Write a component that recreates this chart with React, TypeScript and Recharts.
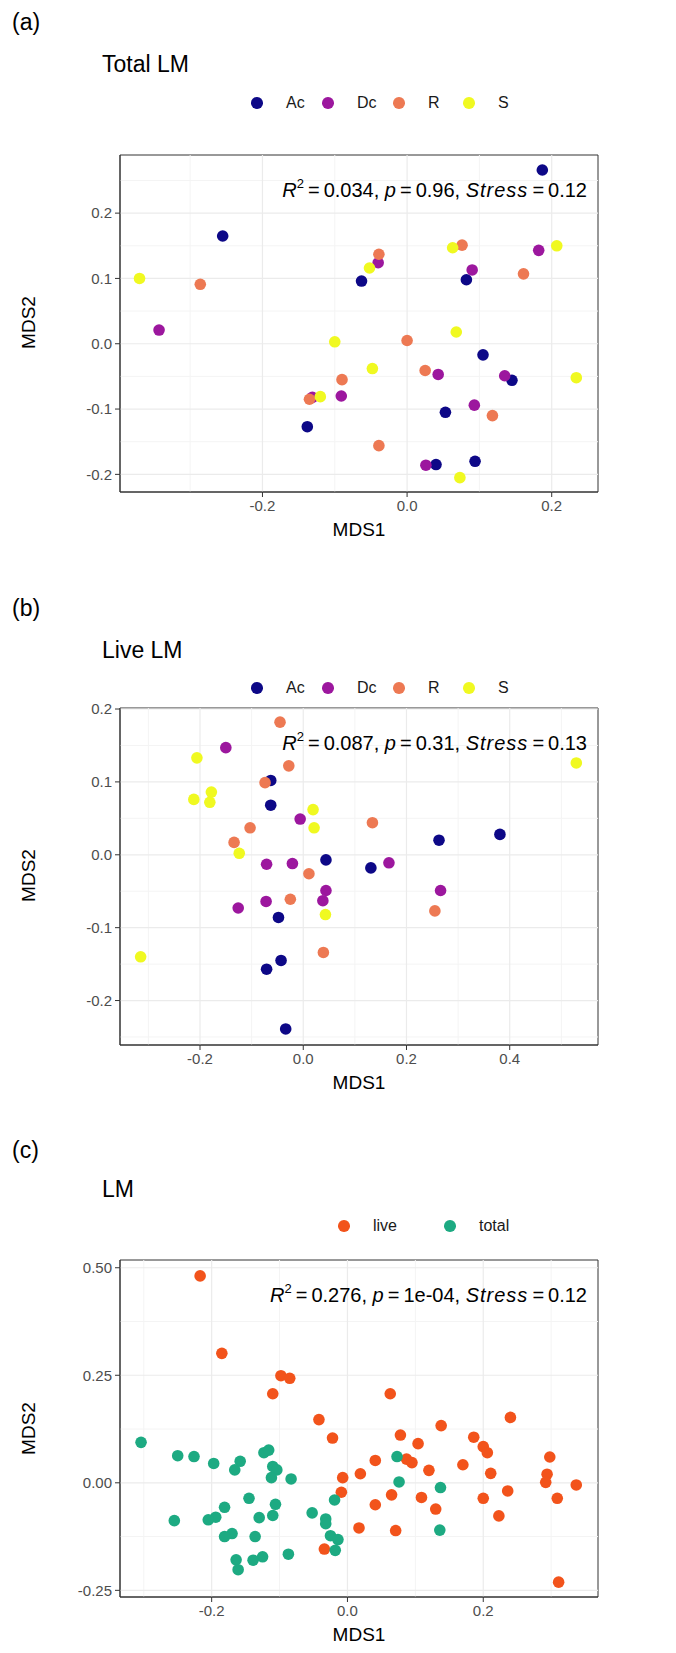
import React from 'react';
import { ScatterChart, Scatter, XAxis, YAxis, ReferenceLine, ReferenceArea } from 'recharts';

// (a) Total LM
const totalAc = [
  { x: 0.187, y: 0.266 }, { x: -0.255, y: 0.165 }, { x: -0.063, y: 0.096 }, { x: 0.082, y: 0.098 },
  { x: 0.105, y: -0.017 }, { x: 0.145, y: -0.056 }, { x: 0.053, y: -0.105 }, { x: -0.138, y: -0.127 },
  { x: 0.040, y: -0.185 }, { x: 0.094, y: -0.180 },
];
const totalDc = [
  { x: -0.343, y: 0.021 }, { x: -0.040, y: 0.124 }, { x: 0.090, y: 0.113 }, { x: 0.182, y: 0.143 },
  { x: -0.091, y: -0.080 }, { x: 0.043, y: -0.047 }, { x: 0.135, y: -0.049 }, { x: 0.093, y: -0.094 },
  { x: 0.026, y: -0.186 }, { x: -0.131, y: -0.082 },
];
const totalR = [
  { x: -0.286, y: 0.091 }, { x: -0.039, y: 0.137 }, { x: 0.076, y: 0.151 }, { x: 0.161, y: 0.107 },
  { x: 0.000, y: 0.005 }, { x: 0.025, y: -0.041 }, { x: -0.090, y: -0.055 }, { x: -0.135, y: -0.085 },
  { x: 0.118, y: -0.110 }, { x: -0.039, y: -0.156 },
];
const totalS = [
  { x: -0.370, y: 0.100 }, { x: -0.052, y: 0.116 }, { x: 0.063, y: 0.147 }, { x: 0.207, y: 0.150 },
  { x: -0.100, y: 0.003 }, { x: 0.068, y: 0.018 }, { x: -0.048, y: -0.038 }, { x: -0.120, y: -0.081 },
  { x: 0.234, y: -0.052 }, { x: 0.073, y: -0.205 },
];

// (b) Live LM
const liveAc = [
  { x: -0.063, y: 0.102 }, { x: -0.063, y: 0.068 }, { x: 0.044, y: -0.007 }, { x: 0.131, y: -0.018 },
  { x: 0.263, y: 0.020 }, { x: 0.381, y: 0.028 }, { x: -0.048, y: -0.086 }, { x: -0.043, y: -0.145 },
  { x: -0.071, y: -0.157 }, { x: -0.034, y: -0.239 },
];
const liveDc = [
  { x: -0.150, y: 0.147 }, { x: -0.006, y: 0.049 }, { x: -0.071, y: -0.013 }, { x: -0.021, y: -0.012 },
  { x: 0.166, y: -0.011 }, { x: 0.044, y: -0.049 }, { x: 0.038, y: -0.063 }, { x: -0.072, y: -0.064 },
  { x: -0.126, y: -0.073 }, { x: 0.266, y: -0.049 },
];
const liveR = [
  { x: -0.045, y: 0.182 }, { x: -0.028, y: 0.122 }, { x: -0.074, y: 0.099 }, { x: -0.103, y: 0.037 },
  { x: -0.134, y: 0.017 }, { x: 0.011, y: -0.026 }, { x: -0.025, y: -0.061 }, { x: 0.134, y: 0.044 },
  { x: 0.255, y: -0.077 }, { x: 0.039, y: -0.134 },
];
const liveS = [
  { x: -0.206, y: 0.133 }, { x: -0.212, y: 0.076 }, { x: -0.178, y: 0.086 }, { x: -0.181, y: 0.072 },
  { x: -0.124, y: 0.002 }, { x: 0.019, y: 0.062 }, { x: 0.021, y: 0.037 }, { x: 0.043, y: -0.082 },
  { x: 0.529, y: 0.126 }, { x: -0.315, y: -0.140 },
];

// (c) LM, live vs total
const lmLive = [
  { x: -0.217, y: 0.481 }, { x: -0.185, y: 0.301 }, { x: -0.098, y: 0.249 }, { x: -0.085, y: 0.243 },
  { x: -0.110, y: 0.207 }, { x: 0.063, y: 0.207 }, { x: -0.042, y: 0.147 }, { x: -0.022, y: 0.104 },
  { x: 0.138, y: 0.133 }, { x: 0.240, y: 0.152 }, { x: 0.078, y: 0.111 }, { x: 0.186, y: 0.106 },
  { x: 0.104, y: 0.091 }, { x: 0.200, y: 0.084 }, { x: 0.206, y: 0.070 }, { x: 0.298, y: 0.060 },
  { x: 0.041, y: 0.052 }, { x: 0.087, y: 0.055 }, { x: 0.095, y: 0.047 }, { x: 0.170, y: 0.042 },
  { x: 0.120, y: 0.029 }, { x: 0.019, y: 0.021 }, { x: 0.211, y: 0.022 }, { x: 0.294, y: 0.020 },
  { x: -0.007, y: 0.012 }, { x: 0.292, y: 0.001 }, { x: 0.337, y: -0.005 }, { x: -0.009, y: -0.022 },
  { x: 0.065, y: -0.028 }, { x: 0.236, y: -0.019 }, { x: 0.109, y: -0.034 }, { x: 0.200, y: -0.036 },
  { x: 0.309, y: -0.036 }, { x: 0.041, y: -0.051 }, { x: 0.130, y: -0.061 }, { x: 0.223, y: -0.077 },
  { x: 0.017, y: -0.105 }, { x: 0.071, y: -0.111 }, { x: -0.034, y: -0.154 }, { x: 0.311, y: -0.231 },
];
const lmTotal = [
  { x: -0.304, y: 0.094 }, { x: -0.250, y: 0.063 }, { x: -0.226, y: 0.061 }, { x: -0.197, y: 0.045 },
  { x: -0.158, y: 0.050 }, { x: -0.166, y: 0.030 }, { x: -0.123, y: 0.070 }, { x: -0.116, y: 0.076 },
  { x: -0.110, y: 0.038 }, { x: -0.104, y: 0.030 }, { x: -0.112, y: 0.012 }, { x: -0.083, y: 0.009 },
  { x: 0.073, y: 0.061 }, { x: 0.076, y: 0.002 }, { x: 0.137, y: -0.011 }, { x: -0.019, y: -0.040 },
  { x: -0.145, y: -0.036 }, { x: -0.106, y: -0.050 }, { x: -0.181, y: -0.057 }, { x: -0.110, y: -0.076 },
  { x: -0.130, y: -0.081 }, { x: -0.194, y: -0.080 }, { x: -0.205, y: -0.086 }, { x: -0.255, y: -0.088 },
  { x: -0.052, y: -0.070 }, { x: -0.032, y: -0.084 }, { x: -0.032, y: -0.095 }, { x: -0.170, y: -0.118 },
  { x: -0.181, y: -0.125 }, { x: -0.136, y: -0.125 }, { x: -0.025, y: -0.123 }, { x: -0.014, y: -0.132 },
  { x: 0.136, y: -0.110 }, { x: -0.018, y: -0.157 }, { x: -0.087, y: -0.166 }, { x: -0.125, y: -0.172 },
  { x: -0.139, y: -0.180 }, { x: -0.164, y: -0.179 }, { x: -0.161, y: -0.202 },
];

const groupLabels = ['Ac', 'Dc', 'R', 'S'];
const groupColors = ['#0D0887', '#9C179E', '#ED7953', '#F0F921'];
const lmLabels = ['live', 'total'];
const lmColors = ['#F2531B', '#1DAA82'];

const FONT = '"Liberation Sans", Arial, sans-serif';
const GRID = '#EBEBEB';
const GRID_MINOR = '#F4F4F4';

type Pt = { x: number; y: number };

interface PanelProps {
  top: number;
  boxTop: number;
  boxBottom: number;
  xDomain: [number, number];
  yDomain: [number, number];
  xTicks: number[];
  yTicks: number[];
  xMinor: number[];
  yMinor: number[];
  digitsY: number;
  series: { data: Pt[]; color: string; name: string }[];
}

const Dot = (color: string) => (props: any) => (
  <circle cx={props.cx} cy={props.cy} r={5.8} fill={color} />
);

const Panel: React.FC<PanelProps> = (p) => {
  const axisH = 60;
  const height = p.boxBottom - p.top + axisH;
  return (
    <div style={{ position: 'absolute', left: 0, top: p.top }}>
      <ScatterChart
        width={676}
        height={height}
        margin={{ top: p.boxTop - p.top, right: 78, bottom: 0, left: 0 }}
      >
        <XAxis
          type="number"
          dataKey="x"
          domain={p.xDomain}
          ticks={p.xTicks}
          allowDataOverflow
          height={axisH}
          tickFormatter={(v: number) => v.toFixed(1)}
          tick={{ fill: '#4D4D4D', fontSize: 15, fontFamily: FONT }}
          tickSize={5}
          tickMargin={3}
          stroke="#333333"
        />
        <YAxis
          type="number"
          dataKey="y"
          domain={p.yDomain}
          ticks={p.yTicks}
          allowDataOverflow
          width={120}
          tickFormatter={(v: number) => v.toFixed(p.digitsY)}
          tick={{ fill: '#4D4D4D', fontSize: 15, fontFamily: FONT }}
          tickSize={5}
          tickMargin={3}
          stroke="#333333"
        />
        {p.xMinor.map((v) => (
          <ReferenceLine key={'xm' + v} x={v} stroke={GRID_MINOR} strokeWidth={1} />
        ))}
        {p.yMinor.map((v) => (
          <ReferenceLine key={'ym' + v} y={v} stroke={GRID_MINOR} strokeWidth={1} />
        ))}
        {p.xTicks.map((v) => (
          <ReferenceLine key={'x' + v} x={v} stroke={GRID} strokeWidth={1.2} />
        ))}
        {p.yTicks.map((v) => (
          <ReferenceLine key={'y' + v} y={v} stroke={GRID} strokeWidth={1.2} />
        ))}
        {p.series.map((s) => (
          <Scatter
            key={s.name}
            name={s.name}
            data={s.data}
            fill={s.color}
            shape={Dot(s.color)}
            isAnimationActive={false}
          />
        ))}
        <ReferenceArea
          x1={p.xDomain[0]}
          x2={p.xDomain[1]}
          y1={p.yDomain[0]}
          y2={p.yDomain[1]}
          fill="none"
          stroke="#333333"
          strokeWidth={1}
          ifOverflow="visible"
        />
      </ScatterChart>
    </div>
  );
};

const abs = (left: number, top: number, extra: React.CSSProperties = {}): React.CSSProperties => ({
  position: 'absolute',
  left,
  top,
  fontFamily: FONT,
  whiteSpace: 'nowrap',
  lineHeight: 1,
  ...extra,
});

const Legend: React.FC<{ top: number; dots: number[]; labels: string[]; colors: string[] }> = ({ top, dots, labels, colors }) => (
  <>
    {labels.map((l, i) => (
      <React.Fragment key={l}>
        <div style={abs(dots[i] - 5.8, top - 5.8, { width: 11.6, height: 11.6, borderRadius: '50%', background: colors[i] })} />
        <div style={abs(dots[i] + 29, top - 8, { fontSize: 16, color: '#1A1A1A' })}>{l}</div>
      </React.Fragment>
    ))}
  </>
);

const EQ = '\u2009=\u2009';

const Annot: React.FC<{ top: number; r2: string; p: string; stress: string }> = ({ top, r2, p, stress }) => (
  <div style={abs(0, top - 10, { width: 587, textAlign: 'right', fontSize: 20, color: '#000' })}>
    <i>R</i>
    <sup style={{ fontSize: 13, verticalAlign: 9 }}>2</sup>
    {EQ + r2 + ', '}
    <i>p</i>
    {EQ + p + ', '}
    <i style={{ letterSpacing: 1 }}>Stress</i>
    {EQ + stress}
  </div>
);

const AxisTitles: React.FC<{ midY: number; xTop: number }> = ({ midY, xTop }) => (
  <>
    <div style={abs(359 - 40, xTop, { width: 80, textAlign: 'center', fontSize: 19, color: '#000' })}>MDS1</div>
    <div
      style={abs(28 - 40, midY - 10, {
        width: 80,
        textAlign: 'center',
        fontSize: 19,
        color: '#000',
        transform: 'rotate(-90deg)',
      })}
    >
      MDS2
    </div>
  </>
);

export default function App() {
  const legendDots = [257, 328, 399, 469];
  return (
    <div style={{ position: 'absolute', left: 0, top: 0, width: 676, height: 1653, background: '#fff', overflow: 'hidden' }}>
      {/* (a) */}
      <Panel
        top={0}
        boxTop={155}
        boxBottom={492}
        xDomain={[-0.397, 0.264]}
        yDomain={[-0.227, 0.289]}
        xTicks={[-0.2, 0, 0.2]}
        yTicks={[-0.2, -0.1, 0, 0.1, 0.2]}
        xMinor={[-0.3, -0.1, 0.1]}
        yMinor={[-0.15, -0.05, 0.05, 0.15, 0.25]}
        digitsY={1}
        series={[totalAc, totalDc, totalR, totalS].map((d, i) => ({ data: d, color: groupColors[i], name: groupLabels[i] }))}
      />
      <div style={abs(12, 11, { fontSize: 23 })}>(a)</div>
      <div style={abs(102, 53, { fontSize: 23 })}>Total LM</div>
      <Legend top={103} dots={legendDots} labels={groupLabels} colors={groupColors} />
      <Annot top={187} r2="0.034" p="0.96" stress="0.12" />
      <AxisTitles midY={323} xTop={520} />

      {/* (b) */}
      <Panel
        top={560}
        boxTop={708}
        boxBottom={1045}
        xDomain={[-0.355, 0.571]}
        yDomain={[-0.261, 0.2014]}
        xTicks={[-0.2, 0, 0.2, 0.4]}
        yTicks={[-0.2, -0.1, 0, 0.1, 0.2]}
        xMinor={[-0.3, -0.1, 0.1, 0.3, 0.5]}
        yMinor={[-0.25, -0.15, -0.05, 0.05, 0.15]}
        digitsY={1}
        series={[liveAc, liveDc, liveR, liveS].map((d, i) => ({ data: d, color: groupColors[i], name: groupLabels[i] }))}
      />
      <div style={abs(12, 597, { fontSize: 23 })}>(b)</div>
      <div style={abs(102, 639, { fontSize: 23 })}>Live LM</div>
      <Legend top={688} dots={legendDots} labels={groupLabels} colors={groupColors} />
      <Annot top={740} r2="0.087" p="0.31" stress="0.13" />
      <AxisTitles midY={876} xTop={1073} />

      {/* (c) */}
      <Panel
        top={1110}
        boxTop={1260}
        boxBottom={1597}
        xDomain={[-0.335, 0.369]}
        yDomain={[-0.2655, 0.518]}
        xTicks={[-0.2, 0, 0.2]}
        yTicks={[-0.25, 0, 0.25, 0.5]}
        xMinor={[-0.3, -0.1, 0.1, 0.3]}
        yMinor={[-0.125, 0.125, 0.375]}
        digitsY={2}
        series={[lmLive, lmTotal].map((d, i) => ({ data: d, color: lmColors[i], name: lmLabels[i] }))}
      />
      <div style={abs(12, 1139, { fontSize: 23 })}>(c)</div>
      <div style={abs(102, 1178, { fontSize: 23 })}>LM</div>
      <Legend top={1226} dots={[344, 450]} labels={lmLabels} colors={lmColors} />
      <Annot top={1292} r2="0.276" p="1e-04" stress="0.12" />
      <AxisTitles midY={1429} xTop={1625} />
    </div>
  );
}
